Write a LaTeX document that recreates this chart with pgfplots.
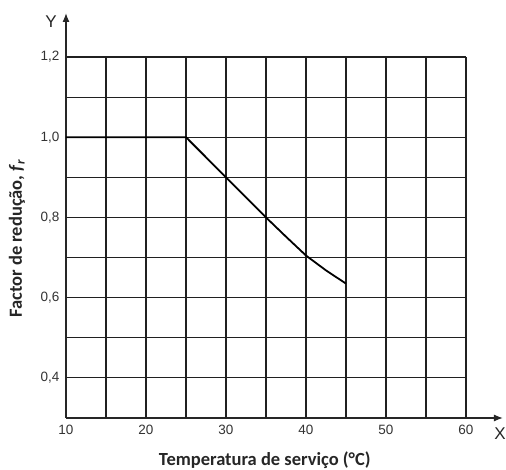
\documentclass[border=0pt]{standalone}
\usepackage{fontspec}
\setmainfont{Liberation Sans}
\newfontfamily\carlito{Carlito}
\usepackage{pgfplots}
\pgfplotsset{compat=1.18}
\usetikzlibrary{arrows.meta}
\begin{document}
\begin{tikzpicture}
\useasboundingbox (-66pt,-52pt) rectangle (440pt,418pt);
\begin{axis}[
  scale only axis,
  width=400pt, height=361pt,
  at={(0,0)}, anchor=south west,
  xmin=10, xmax=60, ymin=0.3, ymax=1.2,
  axis lines=left,
  axis line style={line width=1.3pt, gray!30!black},
  x axis line style={-{Latex[length=9pt,width=7pt]}, shorten >=-37pt},
  y axis line style={-{Latex[length=9pt,width=7pt]}, shorten >=-44pt},
  xtick={10,20,...,60},
  ytick={0.4,0.6,...,1.21},
  minor x tick num=1,
  minor y tick num=1,
  major tick length=0pt, minor tick length=0pt,
  grid=both,
  major grid style={line width=1.2pt, gray!25!black},
  minor grid style={line width=1.2pt, gray!25!black},
  /pgf/number format/assume math mode=true,
  /pgf/number format/use comma,
  yticklabel style={/pgf/number format/fixed, /pgf/number format/precision=1, /pgf/number format/fixed zerofill, font=\fontsize{13.5}{15}\selectfont, text=black!80, xshift=-3pt},
  xticklabel style={font=\fontsize{13.5}{15}\selectfont, text=black!80, yshift=-4pt},
  xlabel={\carlito\bfseries Temperatura de serviço (°C)},
  ylabel={\carlito\bfseries Factor de redução, \textit{f}\textsubscript{\textit{r}}},
  xlabel style={at={(axis description cs:0.497,-0.118)}, anchor=center, font=\fontsize{18.5}{20}\selectfont, text=black!85},
  ylabel style={at={(axis description cs:-0.1225,0.497)}, anchor=center, rotate=0, font=\fontsize{18.5}{20}\selectfont, text=black!85},
  clip=false,
]
\addplot[black, line width=1.8pt] coordinates {
  (10,1.0) (25,1.0) (30,0.9) (35,0.8) (37.5,0.752) (40,0.705) (42.5,0.668) (45,0.635)
};
\node[font=\fontsize{17}{19}\selectfont, text=black!85] at (rel axis cs:-0.0375,1.099) {Y};
\node[font=\fontsize{17}{19}\selectfont, text=black!85] at (rel axis cs:1.085,-0.044) {X};
\end{axis}
\end{tikzpicture}
\end{document}
